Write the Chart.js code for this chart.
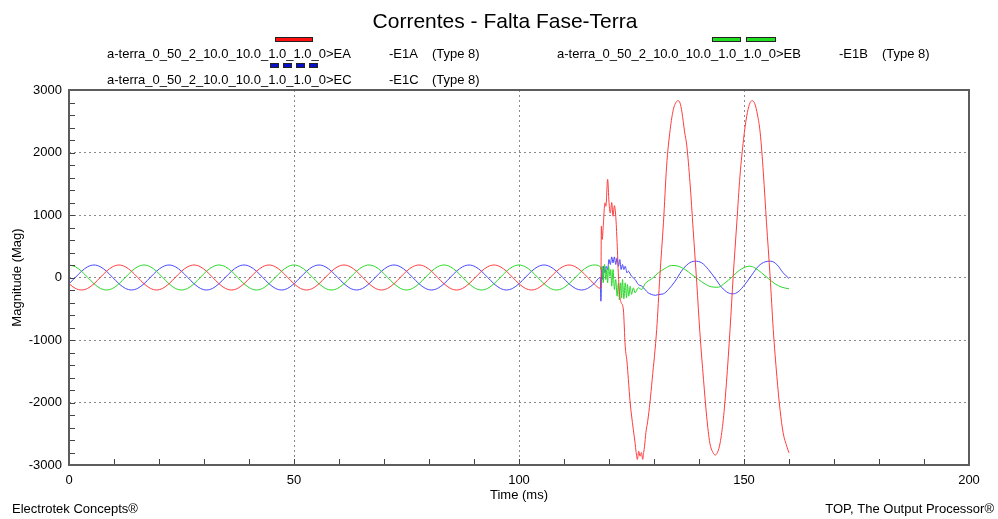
<!DOCTYPE html>
<html>
<head>
<meta charset="utf-8">
<title>Correntes - Falta Fase-Terra</title>
<script src="https://cdn.jsdelivr.net/npm/chart.js@4.4.1/dist/chart.umd.min.js"></script>
<style>
  html, body { margin: 0; padding: 0; background: #fff; }
  #wrap { width: 998px; height: 519px; position: relative; }
</style>
</head>
<body>
<div id="wrap"><canvas id="chart"></canvas></div>
<script>
const FONT = "'Liberation Sans', Arial, sans-serif";

const chartTitle = 'Correntes - Falta Fase-Terra';
const xTitle = 'Time (ms)';
const yTitle = 'Magnitude (Mag)';
const footerLeft = 'Electrotek Concepts®';
const footerRight = 'TOP, The Output Processor®';

const seriesNames = [
  'a-terra_0_50_2_10.0_10.0_1.0_1.0_0>EA',
  'a-terra_0_50_2_10.0_10.0_1.0_1.0_0>EB',
  'a-terra_0_50_2_10.0_10.0_1.0_1.0_0>EC',
];
const seriesTags = ['-E1A', '-E1B', '-E1C'];
const seriesType = '(Type 8)';

// axis ranges / tick spacing
const xMin = 0, xMax = 200, xStep = 50, xMinorStep = 10;
const yMin = -3000, yMax = 3000, yStep = 1000, yMinorStep = 200;

// steady state before the fault, one row per 60 Hz cycle (30 deg samples)
const preTime = [
  0, 1.39, 2.78, 4.17, 5.56, 6.94, 8.33, 9.72, 11.11, 12.5, 13.89, 15.28,
  16.67, 18.06, 19.44, 20.83, 22.22, 23.61, 25, 26.39, 27.78, 29.17, 30.56, 31.94,
  33.33, 34.72, 36.11, 37.5, 38.89, 40.28, 41.67, 43.06, 44.44, 45.83, 47.22, 48.61,
  50, 51.39, 52.78, 54.17, 55.56, 56.94, 58.33, 59.72, 61.11, 62.5, 63.89, 65.28,
  66.67, 68.06, 69.44, 70.83, 72.22, 73.61, 75, 76.39, 77.78, 79.17, 80.56, 81.94,
  83.33, 84.72, 86.11, 87.5, 88.89, 90.28, 91.67, 93.06, 94.44, 95.83, 97.22, 98.61,
  100, 101.39, 102.78, 104.17, 105.56, 106.94, 108.33, 109.72, 111.11, 112.5, 113.89, 115.28,
  116.67, 118.06,
];
const preEA = [
  -100, -173, -200, -173, -100, 0, 100, 173, 200, 173, 100, 0,
  -100, -173, -200, -173, -100, 0, 100, 173, 200, 173, 100, 0,
  -100, -173, -200, -173, -100, 0, 100, 173, 200, 173, 100, 0,
  -100, -173, -200, -173, -100, 0, 100, 173, 200, 173, 100, 0,
  -100, -173, -200, -173, -100, 0, 100, 173, 200, 173, 100, 0,
  -100, -173, -200, -173, -100, 0, 100, 173, 200, 173, 100, 0,
  -100, -173, -200, -173, -100, 0, 100, 173, 200, 173, 100, 0,
  -100, -173,
];
const preEB = [
  200, 173, 100, 0, -100, -173, -200, -173, -100, 0, 100, 173,
  200, 173, 100, 0, -100, -173, -200, -173, -100, 0, 100, 173,
  200, 173, 100, 0, -100, -173, -200, -173, -100, 0, 100, 173,
  200, 173, 100, 0, -100, -173, -200, -173, -100, 0, 100, 173,
  200, 173, 100, 0, -100, -173, -200, -173, -100, 0, 100, 173,
  200, 173, 100, 0, -100, -173, -200, -173, -100, 0, 100, 173,
  200, 173, 100, 0, -100, -173, -200, -173, -100, 0, 100, 173,
  200, 173,
];
const preEC = [
  -100, 0, 100, 173, 200, 173, 100, 0, -100, -173, -200, -173,
  -100, 0, 100, 173, 200, 173, 100, 0, -100, -173, -200, -173,
  -100, 0, 100, 173, 200, 173, 100, 0, -100, -173, -200, -173,
  -100, 0, 100, 173, 200, 173, 100, 0, -100, -173, -200, -173,
  -100, 0, 100, 173, 200, 173, 100, 0, -100, -173, -200, -173,
  -100, 0, 100, 173, 200, 173, 100, 0, -100, -173, -200, -173,
  -100, 0, 100, 173, 200, 173, 100, 0, -100, -173, -200, -173,
  -100, 0,
];

// phase A after the fault (faulted phase)
const faultTimeEA = [
  118.2, 118.3, 118.5, 118.7, 119.1, 119.3, 119.7, 120.0, 120.3, 120.6,
  120.9, 121.2, 121.5, 121.8, 122.1, 122.4, 122.7, 123.2, 123.6, 124.0,
  124.3, 124.7, 125.0, 125.4, 125.8, 126.0, 126.3, 126.6, 126.9, 127.2,
  127.5, 127.7, 127.9, 128.2, 128.6, 129.1,
  129.6, 130.6, 131.3, 132.1, 132.8, 133.6, 134.3, 134.8, 135.3, 135.8,
  136.2, 136.8, 137.3, 138.0, 138.7, 139.5, 140.2, 141.0, 141.7, 142.4,
  143.1, 143.6, 144.1, 144.7, 145.4, 146.1, 146.9, 147.6, 148.4, 149.1,
  149.9, 150.6, 151.2, 151.8, 152.4, 153.0, 153.6, 154.3, 155.0, 155.8,
  156.5, 157.3, 158.0, 158.7, 159.5, 160.0,
];
const faultEA = [
  -150, 820, 610, 800, 1195, 1140, 1570, 1200, 1030, 1200,
  980, 1150, 980, 560, 20, -300, -400, -520, -1100, -1350,
  -1630, -2000, -2200, -2430, -2650, -2780, -2910, -2780, -2860, -2800,
  -2910, -2800, -2700, -2480, -2300, -2000,
  -1630, -830, 20, 875, 1780, 2370, 2690, 2790, 2830, 2790,
  2650, 2330, 2100, 1515, 770, -85, -885, -1630, -2220, -2645,
  -2800, -2840, -2800, -2645, -2270, -1685, -830, 20, 875, 1620,
  2210, 2580, 2770, 2830, 2780, 2600, 2315, 1675, 875, 20,
  -830, -1580, -2110, -2485, -2700, -2805,
];

// phase B after the fault
const faultTimeEB = [
  118.2, 118.5, 118.7, 119.0, 119.3, 119.5, 119.7, 119.9, 120.2, 120.4,
  120.6, 120.9, 121.2, 121.5, 121.8, 122.1, 122.3, 122.6, 122.8, 123.0,
  123.3, 123.6, 123.9, 124.1, 124.4, 124.7, 125.0, 125.4, 125.8, 126.5,
  127.3, 128.0, 129.5, 131.0, 132.4, 133.9, 135.4, 136.9, 138.4, 139.9,
  141.3, 142.8, 144.3, 145.8, 147.3, 148.7, 150.2, 151.3, 152.4, 153.9,
  155.4, 156.9, 158.4, 160.0,
];
const faultEB = [
  128, 181, -85, 208, -32, 128, -85, 181, 21, 128,
  -139, 128, -192, -32, -299, -85, -360, -85, -330, -32,
  -340, -85, -325, -112, -299, -139, -272, -165, -245, -165,
  -192, -100, -20, 75, 144, 192, 181, 128, 48, -32,
  -101, -150, -155, -85, 5, 101, 165, 181, 155, 75,
  -16, -101, -155, -181,
];

// phase C after the fault
const faultTimeEC = [
  118.2, 118.4, 118.6, 118.8, 119.1, 119.4, 119.7, 120.0, 120.3, 120.6,
  120.9, 121.2, 121.5, 121.8, 122.1, 122.4, 122.7, 123.0, 123.3, 123.6,
  124.0, 124.3, 125.0, 125.8, 126.5, 127.3, 128.0, 128.7, 129.5, 130.3,
  131.0, 132.1, 133.2, 134.7, 136.1, 137.6, 139.1, 140.6, 142.1, 143.6,
  145.0, 146.5, 147.6, 148.7, 150.2, 151.7, 153.2, 154.7, 155.9, 157.3,
  158.7, 160.0,
];
const faultEC = [
  -379, 128, -32, 181, 75, 181, 128, 288, 208, 330,
  235, 330, 208, 315, 181, 288, 128, 208, 128, 181,
  75, 101, 21, -32, -112, -139, -192, -245, -272, -285,
  -272, -261, -192, -59, 101, 219, 261, 235, 128, -16,
  -155, -245, -261, -229, -112, 37, 181, 251, 261, 208,
  75, -16,
];

const seriesColors = ['rgb(255,60,60)', 'rgb(40,215,40)', 'rgb(70,70,255)'];

function toPoints(times, values) {
  return times.map((t, i) => ({x: t, y: values[i]}));
}

const seriesData = [
  toPoints(preTime.concat(faultTimeEA), preEA.concat(faultEA)),
  toPoints(preTime.concat(faultTimeEB), preEB.concat(faultEB)),
  toPoints(preTime.concat(faultTimeEC), preEC.concat(faultEC)),
];

// legend swatches: solid bar, long dashes, short dots
function drawSwatch(ctx, style, cx, top, color) {
  ctx.fillStyle = color;
  ctx.strokeStyle = '#222';
  ctx.lineWidth = 1;
  let boxes;
  if (style === 'solid') boxes = [[-19, 38]];
  else if (style === 'dashed') boxes = [[-32, 29], [2, 30]];
  else boxes = [[-24, 9], [-11, 9], [2, 9], [15, 9]];
  boxes.forEach(([dx, w]) => {
    ctx.fillRect(cx + dx, top, w, 5);
    ctx.strokeRect(cx + dx + 0.5, top + 0.5, w - 1, 4);
  });
}

const decorations = {
  id: 'decorations',
  afterDatasetsDraw(chart) {
    const {ctx, chartArea: a, scales: {x, y}} = chart;
    ctx.save();
    // tick marks pointing into the plot
    ctx.strokeStyle = '#444';
    ctx.lineWidth = 1;
    ctx.beginPath();
    for (let v = yMin; v <= yMax; v += yMinorStep) {
      const py = Math.round(y.getPixelForValue(v)) + 0.5;
      ctx.moveTo(a.left, py);
      ctx.lineTo(a.left + 6, py);
    }
    for (let v = xMin; v <= xMax; v += xMinorStep) {
      const px = Math.round(x.getPixelForValue(v)) + 0.5;
      ctx.moveTo(px, a.bottom);
      ctx.lineTo(px, a.bottom - 6);
    }
    ctx.stroke();

    // plot frame
    ctx.lineWidth = 2;
    ctx.strokeStyle = '#5c5c5c';
    ctx.strokeRect(a.left, a.top, a.right - a.left, a.bottom - a.top);
    ctx.restore();
  },
  afterDraw(chart) {
    const {ctx} = chart;
    ctx.save();
    ctx.fillStyle = '#000';
    ctx.textBaseline = 'middle';

    ctx.font = `21px ${FONT}`;
    ctx.textAlign = 'center';
    ctx.fillText(chartTitle, 505, 22);

    // legend rows: name, tag, type, swatch above
    const slots = [{x: 107, y: 54}, {x: 557, y: 54}, {x: 107, y: 80}];
    const styles = ['solid', 'dashed', 'dotted'];
    const swatchColors = ['#ff1010', '#22dd22', '#0a10c8'];
    ctx.font = `13px ${FONT}`;
    ctx.textAlign = 'left';
    slots.forEach((s, i) => {
      ctx.fillStyle = '#000';
      ctx.fillText(seriesNames[i], s.x, s.y);
      ctx.fillText(seriesTags[i], s.x + 282, s.y);
      ctx.fillText(seriesType, s.x + 325, s.y);
      drawSwatch(ctx, styles[i], s.x + 187, s.y - 17, swatchColors[i]);
    });

    ctx.fillStyle = '#000';
    ctx.textAlign = 'left';
    ctx.fillText(footerLeft, 12, 509);
    ctx.textAlign = 'right';
    ctx.fillText(footerRight, 994, 509);
    ctx.restore();
  },
};

Chart.defaults.font.family = FONT;
Chart.defaults.font.size = 13;
Chart.defaults.color = '#000';

const ctx = document.getElementById('chart').getContext('2d');

const chart = new Chart(ctx, {
  type: 'line',
  data: {
    datasets: seriesData.map((pts, i) => ({
      label: seriesNames[i],
      data: pts,
      borderColor: seriesColors[i],
      borderWidth: 1,
      pointRadius: 0,
      fill: false,
      cubicInterpolationMode: 'monotone',
    })),
  },
  options: {
    responsive: true,
    maintainAspectRatio: false,
    animation: false,
    events: [],
    layout: {padding: {top: 90, right: 29, left: 0, bottom: 0}},
    plugins: {
      legend: {display: false},
      title: {display: false},
      tooltip: {enabled: false},
    },
    scales: {
      x: {
        type: 'linear',
        min: xMin,
        max: xMax,
        afterFit: s => { s.height = 54; },
        ticks: {stepSize: xStep, padding: 8, maxRotation: 0, color: '#000'},
        grid: {color: '#8a8a8a', lineWidth: 1, drawTicks: false},
        border: {display: false, dash: [2, 3]},
        title: {display: true, text: xTitle, padding: {top: 0, bottom: 16}, color: '#000'},
      },
      y: {
        type: 'linear',
        min: yMin,
        max: yMax,
        afterFit: s => { s.width = 69; },
        ticks: {stepSize: yStep, padding: 7, color: '#000', callback: v => String(v)},
        grid: {color: '#8a8a8a', lineWidth: 1, drawTicks: false},
        border: {display: false, dash: [2, 3]},
        title: {display: true, text: yTitle, padding: {top: 10, bottom: 0}, color: '#000'},
      },
    },
  },
  plugins: [decorations],
});
</script>
</body>
</html>
